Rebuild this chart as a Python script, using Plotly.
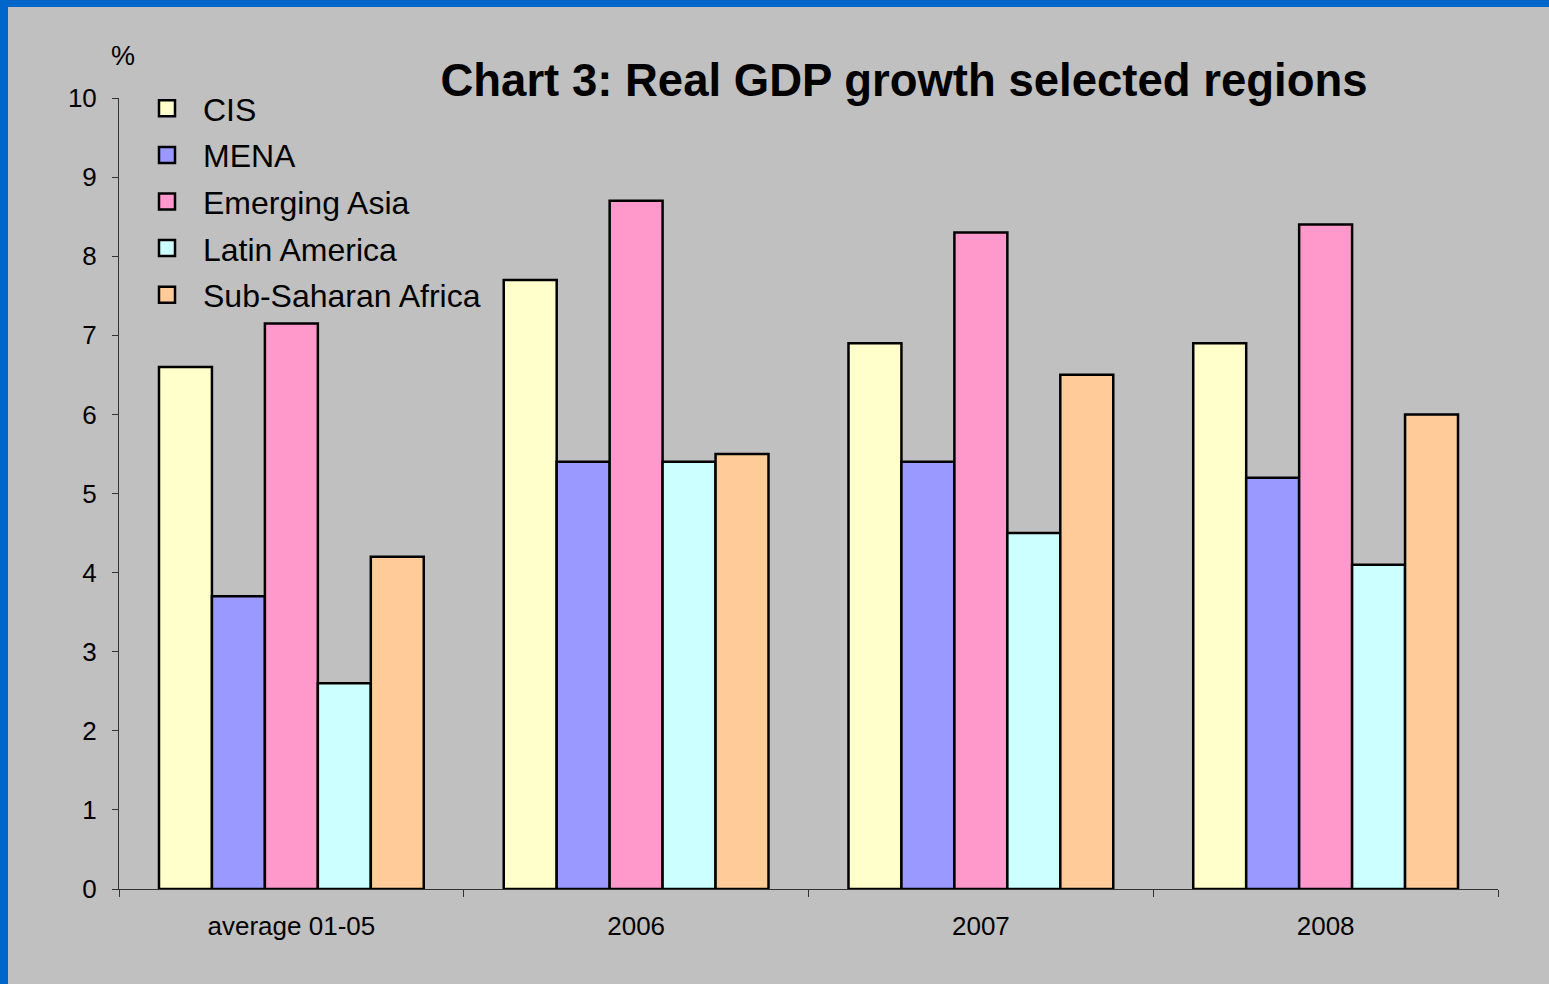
import plotly.graph_objects as go

categories = ["average 01-05", "2006", "2007", "2008"]
series_names = ["CIS", "MENA", "Emerging Asia", "Latin America", "Sub-Saharan Africa"]
cis = [6.6, 7.7, 6.9, 6.9]
mena = [3.7, 5.4, 5.4, 5.2]
emerging_asia = [7.15, 8.7, 8.3, 8.4]
latin_america = [2.6, 5.4, 4.5, 4.1]
ssa = [4.2, 5.5, 6.5, 6.0]
y_ticks = [0, 1, 2, 3, 4, 5, 6, 7, 8, 9, 10]

values = [cis, mena, emerging_asia, latin_america, ssa]
colors = ["#FFFFCC", "#9999FF", "#FF99CC", "#CCFFFF", "#FFCC99"]

W, H = 1549, 984
ML, MR, MT, MB = 119, 51, 98, 95
PW, PH = W - ML - MR, H - MT - MB
FONT = "Arial, Liberation Sans, sans-serif"

fig = go.Figure()
for name, vals, col in zip(series_names, values, colors):
    fig.add_trace(go.Bar(
        x=categories, y=vals, name=name, showlegend=False,
        marker=dict(color=col, line=dict(color="black", width=2.5)),
    ))
# legend entries (larger square symbols)
for name, col in zip(series_names, colors):
    fig.add_trace(go.Scatter(
        x=[None], y=[None], mode="markers", name=name, legendgroup=name,
        marker=dict(symbol="square", size=16, color=col, line=dict(color="black", width=2.5)),
    ))

fig.update_layout(
    width=W, height=H,
    margin=dict(l=ML, r=MR, t=MT, b=MB, pad=0),
    paper_bgcolor="#C0C0C0", plot_bgcolor="#C0C0C0",
    font=dict(family=FONT, color="black"),
    barmode="group", bargap=0.232, bargroupgap=0,
    title=dict(text="<b>Chart 3: Real GDP growth selected regions</b>",
               font=dict(size=45.5, family=FONT, color="black"),
               x=904 / W, xref="container", xanchor="center",
               y=1 - 80 / H, yref="container", yanchor="middle"),
    legend=dict(x=(131 - ML) / PW, y=1 + 17 / PH, xanchor="left", yanchor="top",
                font=dict(size=32, family=FONT, color="black"),
                bgcolor="rgba(0,0,0,0)", tracegroupgap=2, itemwidth=62, itemclick=False),
    xaxis=dict(showline=True, linecolor="#333333", linewidth=1,
               ticks="outside", ticklen=7, tickcolor="#333333", tickson="boundaries",
               tickfont=dict(size=26, family=FONT, color="black"),
               showgrid=False, zeroline=False, ticklabelstandoff=14),
    yaxis=dict(range=[0, 10], tickvals=y_ticks, showline=True, linecolor="#333333", linewidth=1,
               ticks="outside", ticklen=6, tickcolor="#333333",
               tickfont=dict(size=26, family=FONT, color="black"),
               showgrid=False, zeroline=False, ticklabelstandoff=10),
    annotations=[dict(text="%", x=(123 - ML) / PW, y=1 + (98 - 56) / PH, xref="paper", yref="paper",
                      showarrow=False, font=dict(size=27, family=FONT, color="black"),
                      xanchor="center", yanchor="middle")],
    shapes=[
        dict(type="rect", xref="paper", yref="paper", x0=-ML / PW, x1=(8 - ML) / PW,
             y0=-MB / PH, y1=(H - MB) / PH, fillcolor="#0066CC", line=dict(width=0), layer="above"),
        dict(type="rect", xref="paper", yref="paper", x0=-ML / PW, x1=(W - ML) / PW,
             y0=(H - MB - 7) / PH, y1=(H - MB) / PH, fillcolor="#0066CC", line=dict(width=0), layer="above"),
    ],
)

fig.write_html("out.html", config={"displayModeBar": False},
               post_script="document.body.style.margin='0';document.body.style.overflow='hidden';")
